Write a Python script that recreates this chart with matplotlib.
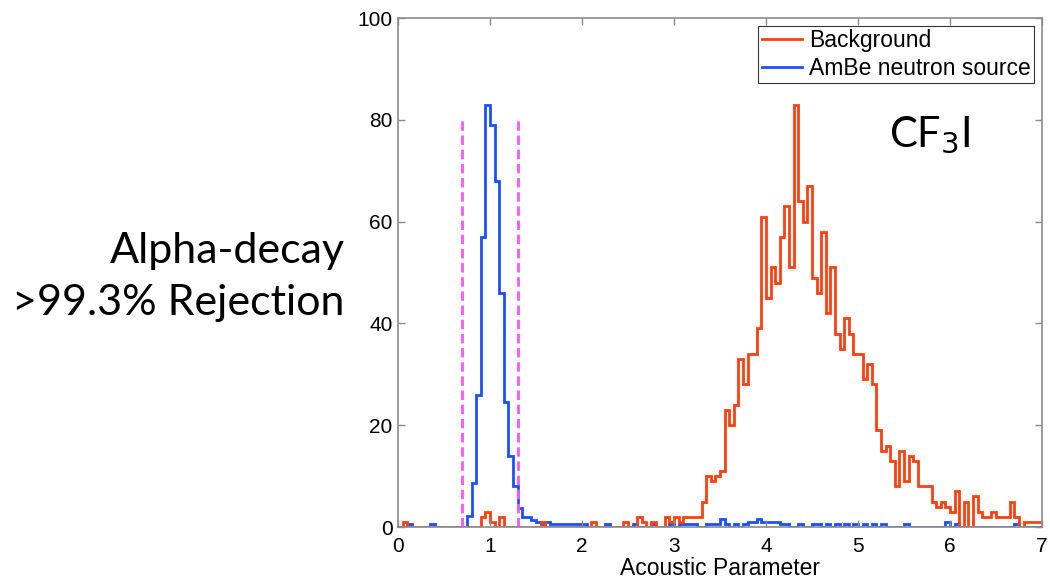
import numpy as np
import matplotlib
matplotlib.use('Agg')
import matplotlib.pyplot as plt

# histogram bins: 0.05 wide over the acoustic parameter range 0..7
bin_width = 0.05
edges = np.round(np.arange(0, 7 + bin_width / 2, bin_width), 4)

# background (alpha decay) counts per bin
background = [
	0, 1, 0, 0, 0, 0, 0, 0, 0, 0,            # 0.00 - 0.45
	0, 0, 0, 0, 0, 0, 0, 0, 2, 3,            # 0.50 - 0.95
	1, 0, 2, 0, 0, 0, 0, 0, 0, 0,            # 1.00 - 1.45
	0, 1, 0, 0, 0, 0, 0, 0, 0, 0,            # 1.50 - 1.95
	0, 0, 1, 0, 0, 0, 0, 0, 0, 1,            # 2.00 - 2.45
	0, 0, 2, 1, 0, 1, 0, 0, 2, 1,            # 2.50 - 2.95
	2, 1, 2, 2, 2, 2, 5, 10, 9, 10,          # 3.00 - 3.45
	11, 23, 20, 24, 33, 28, 34, 34, 39, 61,  # 3.50 - 3.95
	45, 51, 48, 57, 63, 51, 83, 64, 60, 67,  # 4.00 - 4.45
	49, 46, 58, 42, 51, 38, 35, 41, 38, 34,  # 4.50 - 4.95
	34, 29, 32, 28, 19, 15, 16, 13, 8, 15,   # 5.00 - 5.45
	9, 14, 13, 8, 8, 8, 5, 4, 5, 4,          # 5.50 - 5.95
	3, 7, 0, 5, 0, 6, 3, 2, 2, 3,            # 6.00 - 6.45
	2, 2, 2, 5, 2, 0, 1, 1, 1, 1,            # 6.50 - 6.95
]

# AmBe neutron source counts per bin
ambe = [
	0, 0, 0.5, 0, 0, 0, 0, 0.5, 0, 0,              # 0.00 - 0.45
	0, 0, 0, 0, 0, 2.2, 8.7, 26, 57, 83,           # 0.50 - 0.95
	79, 68, 46, 24.6, 14, 8, 3.7, 2, 2, 1.4,       # 1.00 - 1.45
	1, 0.5, 1, 0.5, 0.5, 0.5, 0.5, 0.5, 0.5, 0.5,  # 1.50 - 1.95
	0.5, 0, 0, 0, 0, 0.5, 0, 0, 0, 0,              # 2.00 - 2.45
	0, 0.5, 0, 0, 0, 0.5, 0, 0, 0, 0.5,            # 2.50 - 2.95
	0, 0.5, 0.5, 0.5, 0.5, 0, 0, 0.5, 0.5, 0.5,    # 3.00 - 3.45
	1.5, 0.5, 0, 0.5, 0, 0.5, 1, 1, 1.5, 1,        # 3.50 - 3.95
	1, 1, 1, 0.5, 0.5, 0, 0, 0.5, 0, 0,            # 4.00 - 4.45
	0.5, 0.5, 0, 0.5, 0, 0.5, 0, 0.5, 0, 0.5,      # 4.50 - 4.95
	0, 0.5, 0, 0.5, 0, 0.5, 0, 0, 0, 0,            # 5.00 - 5.45
	0.5, 0, 0, 0, 0, 0, 0, 0, 0, 1,                # 5.50 - 5.95
	0, 0.5, 0, 0, 0, 0, 0, 0, 0, 0,                # 6.00 - 6.45
	0, 0, 0, 0, 0.5, 0, 0, 0, 0, 0,                # 6.50 - 6.95
]

# acceptance window for neutron-like events
cut_lo, cut_hi, cut_top = 0.7, 1.3, 80

red = '#ff4010'
blue = '#1a50ff'
grey = '#8c8c8c'

plt.rcParams['font.family'] = ['Liberation Sans', 'DejaVu Sans']

fig = plt.figure(figsize=(10.5, 5.79), dpi=100)
ax = fig.add_axes([0.379, 0.0898, 0.6134, 0.8791])

h_blue = ax.stairs(ambe, edges, color=blue, lw=2.0, baseline=None, label='AmBe neutron source')
h_red = ax.stairs(background, edges, color=red, lw=2.0, baseline=None, label='Background')

ax.plot([cut_lo, cut_lo], [0, cut_top], ls=(0, (3.4, 1.7)), color='#ff55ff', lw=2.0)
ax.plot([cut_hi, cut_hi], [0, cut_top], ls=(0, (3.4, 1.7)), color='#ff55ff', lw=2.0)

ax.set_xlim(0, 7)
ax.set_ylim(0, 100)
ax.set_xticks(range(0, 8))
ax.set_yticks(range(0, 101, 20))
ax.tick_params(direction='in', top=True, right=True, labelsize=15, color=grey,
	length=5, width=1, pad=4)
ax.tick_params(axis='x', pad=7)
for s in ax.spines.values():
	s.set_color(grey)
	s.set_linewidth(1.2)
ax.set_xlabel('Acoustic Parameter', fontsize=16.5, labelpad=1)

leg = ax.legend(handles=[h_red, h_blue], loc='upper right', fontsize=16.5, frameon=True,
	fancybox=False, borderaxespad=0.35, handlelength=1.75, handletextpad=0.3,
	borderpad=0.15, labelspacing=0.2)
leg.get_frame().set_edgecolor('black')
leg.get_frame().set_linewidth(0.8)

ax.text(0.762, 0.747, r'CF$_3$I', transform=ax.transAxes, fontsize=30,
	family=['Lato', 'DejaVu Sans'], ha='left', va='baseline')

fig.text(0.328, 0.546, 'Alpha-decay', fontsize=31, family=['Lato', 'DejaVu Sans'],
	ha='right', va='baseline')
fig.text(0.328, 0.456, '>99.3% Rejection', fontsize=31, family=['Lato', 'DejaVu Sans'],
	ha='right', va='baseline')

fig.savefig('out.png', dpi=100)
